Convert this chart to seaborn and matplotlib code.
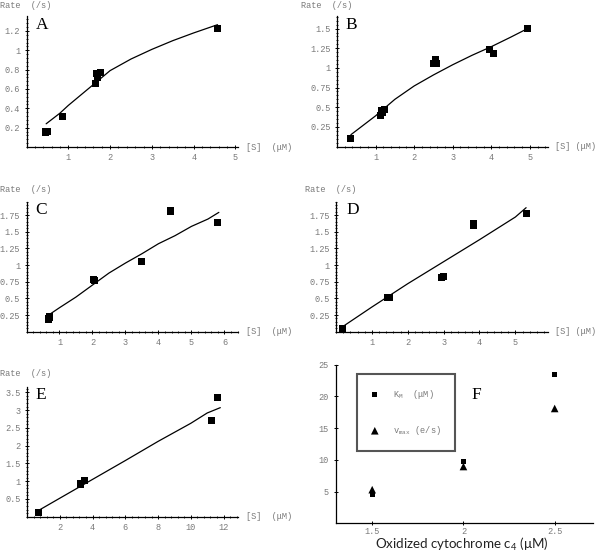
import matplotlib
matplotlib.use("Agg")
import matplotlib.pyplot as plt
from matplotlib.ticker import FuncFormatter, AutoMinorLocator, FixedLocator
import seaborn as sns
import pandas as pd

# ---------------- data ----------------
# Panel A
a_s = [0.46, 0.49, 0.86, 1.66, 1.67, 1.70, 1.76, 4.58]
a_rate = [0.155, 0.16, 0.32, 0.66, 0.76, 0.72, 0.775, 1.23]
a_fit_s = [0.47, 0.8, 1.0, 1.5, 2.0, 2.5, 3.0, 3.5, 4.0, 4.57]
a_fit_rate = [0.24, 0.35, 0.43, 0.61, 0.79, 0.91, 1.01, 1.10, 1.18, 1.265]

# Panel B
b_s = [0.36, 1.13, 1.15, 1.22, 1.18, 2.50, 2.55, 2.57, 3.96, 4.05, 4.93]
b_rate = [0.10, 0.40, 0.46, 0.47, 0.43, 1.05, 1.10, 1.06, 1.23, 1.18, 1.505]
b_fit_s = [0.36, 1.0, 1.5, 2.0, 2.5, 3.0, 3.5, 4.0, 4.5, 4.9]
b_fit_rate = [0.15, 0.39, 0.60, 0.77, 0.91, 1.04, 1.16, 1.27, 1.39, 1.49]

# Panel C
c_s = [0.66, 0.68, 0.70, 2.02, 2.06, 3.49, 4.37, 5.78]
c_rate = [0.18, 0.20, 0.22, 0.78, 0.77, 1.05, 1.81, 1.64]
c_fit_s = [0.67, 1.0, 1.5, 2.0, 2.5, 3.0, 3.5, 4.0, 4.5, 5.0, 5.5, 5.83]
c_fit_rate = [0.25, 0.36, 0.52, 0.70, 0.88, 1.03, 1.17, 1.32, 1.44, 1.58, 1.69, 1.79]

# Panel D
d_s = [0.17, 1.45, 1.49, 2.93, 3.00, 3.83, 3.84, 5.32]
d_rate = [0.04, 0.51, 0.51, 0.81, 0.83, 1.62, 1.59, 1.77]
d_fit_s = [0.17, 1.0, 2.0, 3.0, 4.0, 5.0, 5.3]
d_fit_rate = [0.07, 0.37, 0.72, 1.05, 1.38, 1.72, 1.86]

# Panel E
e_s = [0.72, 3.26, 3.52, 11.24, 11.65]
e_rate = [0.12, 0.92, 1.01, 2.71, 3.35]
e_fit_s = [0.72, 2.0, 4.0, 6.0, 8.0, 10.0, 11.0, 11.8]
e_fit_rate = [0.18, 0.52, 1.05, 1.58, 2.12, 2.63, 2.92, 3.07]

# Panel F
f_cyt = [1.5, 2.0, 2.5]
f_km = [4.6, 9.8, 23.4]
f_vmax = [5.3, 8.95, 18.1]

panel_letters = ["A", "B", "C", "D", "E", "F"]

# ---------------- style ----------------
sns.set_theme(style="white")
plt.rcParams["font.family"] = ["Liberation Mono", "DejaVu Sans Mono"]
plt.rcParams["mathtext.fontset"] = "custom"
plt.rcParams["mathtext.rm"] = "Lato"
plt.rcParams["mathtext.tt"] = "Liberation Mono"

W, H = 600, 552
fig = plt.figure(figsize=(W / 100, H / 100), dpi=100)
fig.patch.set_facecolor("white")

GRAY = "#7a7a7a"
MONO = 6.2
LETTER = 12.5


def fx(px):
    return px / W


def fy(py):
    return 1 - py / H


def make_ax(left, right, top, bottom):
    return fig.add_axes([fx(left), fy(bottom), (right - left) / W, (bottom - top) / H])


def fmt(v, p):
    return f"{v:g}"


def style_ax(ax, xlim, ylim, xticks, yticks, direction="inout"):
    ax.set_xlim(*xlim)
    ax.set_ylim(*ylim)
    for s in ["top", "right"]:
        ax.spines[s].set_visible(False)
    for s in ["left", "bottom"]:
        ax.spines[s].set_color("black")
        ax.spines[s].set_linewidth(0.9)
    ax.xaxis.set_major_locator(FixedLocator(xticks))
    ax.yaxis.set_major_locator(FixedLocator(yticks))
    ax.xaxis.set_major_formatter(FuncFormatter(fmt))
    ax.yaxis.set_major_formatter(FuncFormatter(fmt))
    ax.tick_params(which="major", direction=direction, length=3, width=0.7,
                   color="black", labelsize=MONO, labelcolor=GRAY, pad=3,
                   bottom=True, left=True)
    ax.set_xlabel("")
    ax.set_ylabel("")
    ax.set_facecolor("none")


def rate_panel(left, right, top, bottom, s, rate, fs, frate, xlim, ylim, xticks, yticks,
               letter, letter_xy, rate_xy, s_xy, s_text):
    ax = make_ax(left, right, top, bottom)
    sns.lineplot(x=fs, y=frate, sort=False, estimator=None, color="black", lw=0.9, ax=ax)
    sns.scatterplot(x=s, y=rate, marker="s", s=26, color="black", edgecolor="none",
                    linewidth=0, ax=ax, zorder=3)
    style_ax(ax, xlim, ylim, xticks, yticks)
    ax.xaxis.set_minor_locator(AutoMinorLocator(5))
    ax.yaxis.set_minor_locator(AutoMinorLocator(5))
    ax.tick_params(which="minor", direction="inout", length=1.6, width=0.6, color="black",
                   bottom=True, left=True)
    fig.text(fx(letter_xy[0]), fy(letter_xy[1]), letter, family=["Liberation Serif"],
             fontsize=LETTER, ha="left", va="center", color="black")
    fig.text(fx(rate_xy[0]), fy(rate_xy[1]), "Rate  (/s)", fontsize=MONO, color=GRAY,
             ha="left", va="center")
    fig.text(fx(s_xy[0]), fy(s_xy[1]), s_text, fontsize=MONO, color=GRAY,
             ha="left", va="center")
    return ax


rate_panel(26.5, 238, 16, 147, a_s, a_rate, a_fit_s, a_fit_rate, (0, 5.06), (0, 1.355),
           [1, 2, 3, 4, 5], [0.2, 0.4, 0.6, 0.8, 1.0, 1.2], panel_letters[0],
           (35.5, 25), (0, 5), (246.5, 147), "[S]  (μM)")
rate_panel(337, 548, 16, 146.5, b_s, b_rate, b_fit_s, b_fit_rate, (0, 5.47), (0, 1.66),
           [1, 2, 3, 4, 5], [0.25, 0.5, 0.75, 1.0, 1.25, 1.5], panel_letters[1],
           (345, 25), (301, 5), (555, 146.5), "[S] (μM)")
rate_panel(26.5, 238, 201.7, 331.7, c_s, c_rate, c_fit_s, c_fit_rate, (0, 6.41), (0, 1.95),
           [1, 2, 3, 4, 5, 6], [0.25, 0.5, 0.75, 1.0, 1.25, 1.5, 1.75], panel_letters[2],
           (35.5, 210), (0, 189), (246.5, 331.7), "[S]  (μM)")
rate_panel(336, 548, 201.7, 331.7, d_s, d_rate, d_fit_s, d_fit_rate, (0, 5.91), (0, 1.95),
           [1, 2, 3, 4, 5], [0.25, 0.5, 0.75, 1.0, 1.25, 1.5, 1.75], panel_letters[3],
           (346.5, 210), (305, 189), (555, 331.7), "[S] (μM)")
rate_panel(27, 238, 386.7, 516.7, e_s, e_rate, e_fit_s, e_fit_rate, (0, 12.88), (0, 3.66),
           [2, 4, 6, 8, 10, 12], [0.5, 1, 1.5, 2, 2.5, 3, 3.5], panel_letters[4],
           (35, 395), (0, 374), (246.5, 516.7), "[S]  (μM)")

# Panel F
axf = make_ax(335.7, 593, 364.7, 523.3)
dff = pd.DataFrame({"cyt": f_cyt, "km": f_km, "vmax": f_vmax})
sns.scatterplot(data=dff, x="cyt", y="km", marker="s", s=12, color="black", edgecolor="none",
                linewidth=0, ax=axf, label=r"K$_\mathtt{M}$  (μM)", zorder=3)
sns.scatterplot(data=dff, x="cyt", y="vmax", marker="^", s=30, color="black", edgecolor="none",
                linewidth=0, ax=axf, label=r"v$_\mathtt{max}$ (e/s)", zorder=3)
style_ax(axf, (1.3, 2.71), (0, 25), [1.5, 2.0, 2.5], [5, 10, 15, 20, 25])
axf.tick_params(axis="x", which="major", pad=1.5)
axf.tick_params(axis="y", which="major", pad=3.5)
leg = axf.legend(loc="upper left", bbox_to_anchor=(fx(356.7), fy(374)),
                 bbox_transform=fig.transFigure, borderaxespad=0, frameon=True,
                 fancybox=False, shadow=False, fontsize=MONO, labelcolor=GRAY,
                 borderpad=1.6, labelspacing=2.7, handlelength=1.0, handletextpad=1.6,
                 edgecolor="#555555", facecolor="white", framealpha=1)
leg.get_frame().set_linewidth(1.5)
fig.text(fx(471), fy(395), panel_letters[5], family=["Liberation Serif"], fontsize=LETTER,
         ha="left", va="center", color="black")
fig.text(fx(462), fy(549.3), r"Oxidized cytochrome c$_\mathrm{4}$ (μM)",
         family=["Lato", "DejaVu Sans"], fontsize=9.6, ha="center", va="baseline",
         color="#222222")

fig.savefig("out.png", dpi=100, facecolor="white")
